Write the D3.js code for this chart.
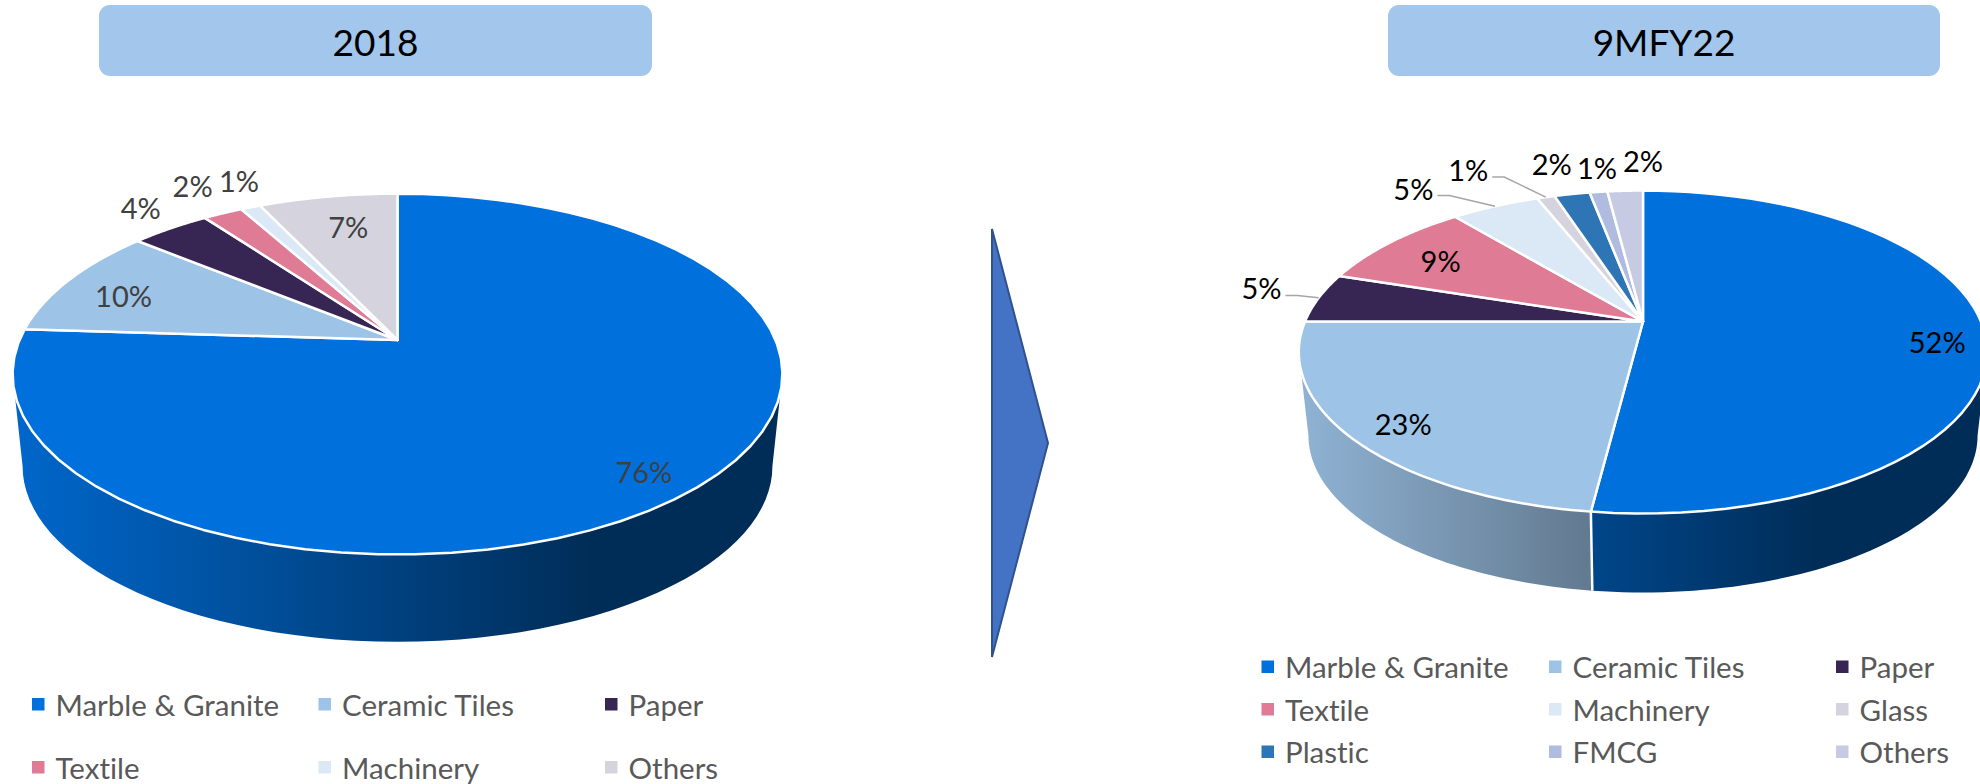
<!DOCTYPE html>
<html>
<head>
<meta charset="utf-8">
<title>Share by sector, 2018 vs 9MFY22</title>
<script src="https://cdnjs.cloudflare.com/ajax/libs/d3/7.8.5/d3.min.js"></script>
<style>
  html, body { margin: 0; padding: 0; background: #fff; overflow: hidden; }
  svg { display: block; }
  text { font-family: Lato, "Open Sans", sans-serif; font-variant-ligatures: none; }
</style>
</head>
<body>
<div id="chart"></div>
<script>
// data
const categories2018 = ["Marble & Granite", "Ceramic Tiles", "Paper", "Textile", "Machinery", "Others"];
const values2018 = [76, 10, 4, 2, 1, 7];

const categories9m = ["Marble & Granite", "Ceramic Tiles", "Paper", "Textile", "Machinery", "Glass", "Plastic", "FMCG", "Others"];
const values9m = [52, 23, 5, 9, 5, 1, 2, 1, 2];

const titles = ["2018", "9MFY22"];

// colours
const colors2018 = ["#0070dd", "#9dc3e6", "#372554", "#e07b95", "#dae9f5", "#d5d3de"];
const colors9m = ["#0070dd", "#9dc3e6", "#372554", "#e07b95", "#dae9f5", "#d5d3de", "#2e75b6", "#b0bcdf", "#c6cbe3"];

// where each data label sits, as radius on the disc and degrees turned from the slice middle
const labelRadius2018 = [0.873, 0.808, 1.19, 1.25, 1.218, 0.757];
const labelTurn2018 = [2.4, -2.1, 1.4, 1, 2.4, 1.3];
const labelRadius9m = [0.859, 0.859, 1.198, 0.775, 1.305, 1.355, 1.299, 1.232, 1.29];
const labelTurn9m = [5, -1.3, 1.8, -0.8, -7.8, -8.1, -0.5, 1.2, 3.6];
const leaders9m = [false, false, true, false, true, true, false, false, false];

const width = 1980, height = 784;

const svg = d3.select("#chart").append("svg")
  .attr("width", width)
  .attr("height", height);
const defs = svg.append("defs");

// title bars
const titleBars = [{x: 99, w: 553}, {x: 1388, w: 552}];
titles.forEach(function (t, i) {
  svg.append("rect")
    .attr("x", titleBars[i].x).attr("y", 5)
    .attr("width", titleBars[i].w).attr("height", 71)
    .attr("rx", 11)
    .attr("fill", "#a2c6ec");
  svg.append("text")
    .attr("x", titleBars[i].x + titleBars[i].w / 2).attr("y", 41)
    .attr("text-anchor", "middle").attr("dominant-baseline", "central")
    .attr("font-size", 37).attr("fill", "#000")
    .text(t);
});

// arrow between the pies
svg.append("path")
  .attr("d", d3.line()([[992, 229], [1048, 443], [992, 657]]) + "Z")
  .attr("fill", "#4472c4")
  .attr("stroke", "#2f528f")
  .attr("stroke-width", 2);

// a disc seen in perspective: theta is clockwise from 12 o'clock, v goes towards the viewer
function makeProjection(o) {
  const midY = o.apexY + (o.b / (1 - o.k) - o.b / (1 + o.k)) / 2;
  return function (theta, r, deep) {
    const u = r * Math.sin(theta), v = -r * Math.cos(theta);
    const w = 1 - o.k * v;
    let x = o.apexX + o.a * u / w;
    let y = o.apexY + o.b * v / w;
    if (deep) {
      x = o.apexX + (x - o.apexX) * o.shrink;
      y = midY + o.drop + (y - midY) * o.shrink;
    }
    return [x, y];
  };
}

function shade(c, f) {
  const rgb = d3.rgb(c);
  return d3.rgb(rgb.r * f, rgb.g * f, rgb.b * f).formatHex();
}

function drawPie(o) {
  const project = makeProjection(o);
  const slices = d3.pie().sort(null).value(function (d) { return d; })(o.values);
  const line = d3.line();
  const g = svg.append("g");

  function arcPoints(a0, a1, r, deep) {
    return d3.range(0, 61).map(function (i) {
      return project(a0 + (a1 - a0) * i / 60, r, deep);
    });
  }

  // outside wall, only the part facing us (between the two tangent angles of the rim)
  const wallFrom = Math.acos(-o.k), wallTo = 2 * Math.PI - wallFrom;
  const left = o.apexX - o.a / Math.sqrt(1 - o.k * o.k);
  const span = 2 * o.a / Math.sqrt(1 - o.k * o.k);
  slices.forEach(function (s, i) {
    const a0 = Math.max(s.startAngle, wallFrom), a1 = Math.min(s.endAngle, wallTo);
    if (a1 <= a0) return;
    const id = o.id + "-wall-" + i;
    const grad = defs.append("linearGradient").attr("id", id)
      .attr("gradientUnits", "userSpaceOnUse")
      .attr("x1", left).attr("x2", left + span * 0.75).attr("y1", 0).attr("y2", 0);
    grad.append("stop").attr("offset", 0).attr("stop-color", shade(o.colors[i], 0.92));
    grad.append("stop").attr("offset", 1).attr("stop-color", shade(o.colors[i], 0.4));
    g.append("path")
      .attr("d", line(arcPoints(a0, a1, 1, false).concat(arcPoints(a1, a0, 1, true))) + "Z")
      .attr("fill", "url(#" + id + ")");
  });
  // white seams on the wall
  slices.forEach(function (s) {
    if (s.startAngle > wallFrom && s.startAngle < wallTo) {
      g.append("path")
        .attr("d", line([project(s.startAngle, 1, false), project(s.startAngle, 1, true)]))
        .attr("stroke", "#fff").attr("stroke-width", 2.5).attr("fill", "none");
    }
  });

  // top face
  slices.forEach(function (s, i) {
    const pts = [project(0, 0, false)].concat(arcPoints(s.startAngle, s.endAngle, 1, false));
    g.append("path")
      .attr("d", line(pts) + "Z")
      .attr("fill", o.colors[i])
      .attr("stroke", "#fff")
      .attr("stroke-width", 2.5)
      .attr("stroke-linejoin", "round");
  });

  // labels
  slices.forEach(function (s, i) {
    const mid = (s.startAngle + s.endAngle) / 2;
    const p = project(mid + o.labelTurn[i] * Math.PI / 180, o.labelRadius[i], false);
    if (o.leaders && o.leaders[i]) {
      const x0 = p[0] + 24, y0 = p[1] + 7.5;
      g.append("path")
        .attr("d", line([[x0, y0], [x0 + 12, y0], project(mid, 1, false)]))
        .attr("fill", "none").attr("stroke", "#a6a6a6").attr("stroke-width", 1.5);
    }
    g.append("text")
      .attr("x", p[0]).attr("y", p[1])
      .attr("text-anchor", "middle").attr("dominant-baseline", "central")
      .attr("font-size", o.labelSize).attr("fill", o.labelColor)
      .text(d3.format(".0f")(s.data) + "%");
  });

  // legend
  const lg = svg.append("g");
  o.categories.forEach(function (c, i) {
    const col = i % 3, row = Math.floor(i / 3);
    const x = o.legendX[col], y = o.legendY[row];
    lg.append("rect")
      .attr("x", x).attr("y", y - 6)
      .attr("width", 12.5).attr("height", 12.5)
      .attr("fill", o.colors[i]);
    lg.append("text")
      .attr("x", x + o.legendGap).attr("y", y)
      .attr("dominant-baseline", "central")
      .attr("font-size", 29.5).attr("fill", "#595959")
      .text(c);
  });
}

drawPie({
  id: "p2018",
  categories: categories2018, values: values2018, colors: colors2018,
  labelRadius: labelRadius2018, labelTurn: labelTurn2018,
  labelColor: "#404040", labelSize: 29,
  apexX: 397.5, apexY: 340, a: 378, b: 174, k: 0.189, drop: 92, shrink: 0.974,
  legendX: [32, 318.5, 605], legendY: [704, 767], legendGap: 23.5
});

drawPie({
  id: "p9m",
  categories: categories9m, values: values9m, colors: colors9m,
  labelRadius: labelRadius9m, labelTurn: labelTurn9m, leaders: leaders9m,
  labelColor: "#000", labelSize: 29,
  apexX: 1643, apexY: 321.5, a: 338, b: 155.7, k: 0.189, drop: 83.5, shrink: 0.972,
  legendX: [1261.5, 1549, 1836], legendY: [666.5, 709, 751.5], legendGap: 23.5
});
</script>
</body>
</html>
